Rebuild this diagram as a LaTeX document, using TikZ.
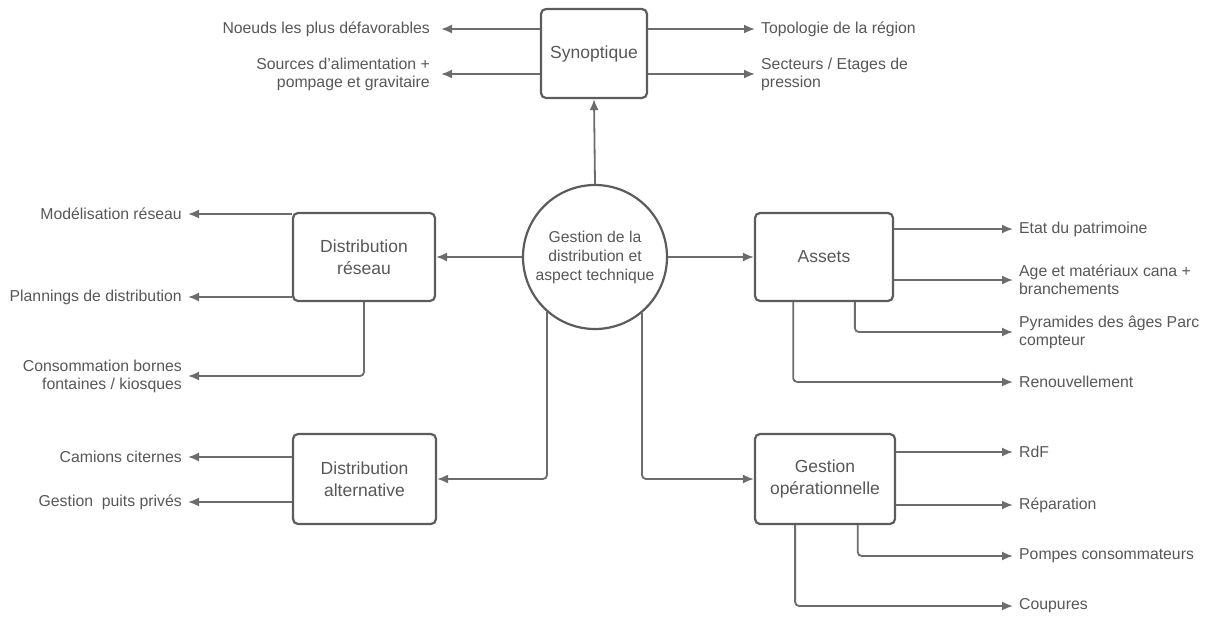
\documentclass[tikz,border=0pt]{standalone}
\usepackage{fontspec}
\setmainfont{Liberation Sans}
\usetikzlibrary{arrows.meta,calc}
\definecolor{txt}{HTML}{575757}
\definecolor{ln}{HTML}{6C6C6C}
\definecolor{bx}{HTML}{5C5C5C}
\begin{document}
\begin{tikzpicture}[x=1pt,y=-1pt,
  every node/.style={text=txt},
  box/.style={draw=bx, line width=2.2pt, rounded corners=5pt, align=center,
    inner sep=0pt, font=\fontsize{17.5}{21.5}\selectfont},
  hub/.style={draw=bx, line width=2.2pt, circle, minimum size=144pt, align=center,
    inner sep=0pt, font=\fontsize{15.7}{19}\selectfont},
  lblL/.style={anchor=east, align=right, inner xsep=6pt, inner ysep=0pt,
    font=\fontsize{15.8}{18}\selectfont},
  lblR/.style={anchor=west, align=left, inner xsep=6pt, inner ysep=0pt,
    font=\fontsize{15.8}{18}\selectfont},
  arr/.style={draw=ln, line width=1.8pt, rounded corners=4pt,
    -{Latex[length=11pt,width=9pt]}}
]
\useasboundingbox (0,0) rectangle (1216,619);

% central hub
\node[hub] (hub) at (595,257) {Gestion de la\\distribution et\\aspect technique};

% boxes
\node[box, minimum width=106pt, minimum height=89pt] (syn) at (594,53.5) {Synoptique};
\node[box, minimum width=142pt, minimum height=88pt] (res) at (364,257) {Distribution\\réseau};
\node[box, minimum width=138pt, minimum height=88pt] (ass) at (824,257) {Assets};
\node[box, minimum width=143pt, minimum height=90pt] (alt) at (364.5,479) {Distribution\\alternative};
\node[box, minimum width=140pt, minimum height=90pt] (gop) at (825,479) {Gestion\\opérationnelle};

% hub connectors
\draw[arr] (hub.north) -- (syn.south);
\draw[arr] (hub.west) -- (res.east);
\draw[arr] (hub.east) -- (ass.west);
\draw[arr] (hub.229) |- (alt.east);
\draw[arr] (hub.310) |- (gop.west);

% Synoptique labels
\node[lblL, inner xsep=11pt] (s1) at (441,29) {Noeuds les plus défavorables};
\node[lblL, inner xsep=11pt] (s2) at (441,74) {Sources d\symbol{"27}alimentation +\\pompage et gravitaire};
\node[lblR] (s3) at (755,29) {Topologie de la région};
\node[lblR] (s4) at (755,74) {Secteurs / Etages de\\pression};
\draw[arr] (syn.west |- s1.east) -- (s1.east);
\draw[arr] (syn.west |- s2.east) -- (s2.east);
\draw[arr] (syn.east |- s3.west) -- (s3.west);
\draw[arr] (syn.east |- s4.west) -- (s4.west);

% Distribution reseau labels
\node[lblL] (r1) at (188,214) {Modélisation réseau};
\node[lblL] (r2) at (188,297) {Plannings de distribution};
\node[lblL] (r3) at (188,376) {Consommation bornes\\fontaines / kiosques};
\draw[arr] (res.west |- r1.east) -- (r1.east);
\draw[arr] (res.west |- r2.east) -- (r2.east);
\draw[arr] (res.south) |- (r3.east);

% Distribution alternative labels
\node[lblL] (a1) at (188,457) {Camions citernes};
\node[lblL] (a2) at (188,502) {Gestion\ \ puits privés};
\draw[arr] (alt.west |- a1.east) -- (a1.east);
\draw[arr] (alt.west |- a2.east) -- (a2.east);

% Assets labels
\node[lblR] (e1) at (1013,229) {Etat du patrimoine};
\node[lblR] (e2) at (1013,280) {Age et matériaux cana +\\branchements};
\node[lblR] (e3) at (1013,332) {Pyramides des âges Parc\\compteur};
\node[lblR] (e4) at (1013,382) {Renouvellement};
\coordinate (ab1) at ($(ass.south west)!0.72!(ass.south east)$);
\coordinate (ab2) at ($(ass.south west)!0.28!(ass.south east)$);
\draw[arr] (ass.east |- e1.west) -- (e1.west);
\draw[arr] (ass.east |- e2.west) -- (e2.west);
\draw[arr] (ab1) |- (e3.west);
\draw[arr] (ab2) |- (e4.west);

% Gestion operationnelle labels
\node[lblR] (g1) at (1013,452) {RdF};
\node[lblR] (g2) at (1013,505) {Réparation};
\node[lblR] (g3) at (1013,556) {Pompes consommateurs};
\node[lblR] (g4) at (1013,606) {Coupures};
\coordinate (gb1) at ($(gop.south west)!0.73!(gop.south east)$);
\coordinate (gb2) at ($(gop.south west)!0.29!(gop.south east)$);
\draw[arr] (gop.east |- g1.west) -- (g1.west);
\draw[arr] (gop.east |- g2.west) -- (g2.west);
\draw[arr] (gb1) |- (g3.west);
\draw[arr] (gb2) |- (g4.west);
\end{tikzpicture}
\end{document}
